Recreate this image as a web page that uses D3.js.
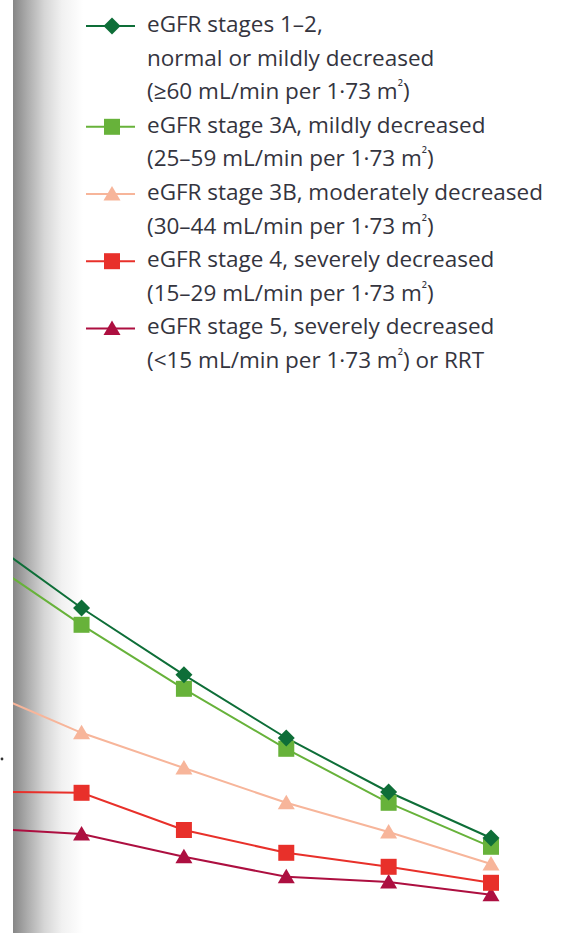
<!DOCTYPE html>
<html><head><meta charset="utf-8">
<script src="https://cdn.jsdelivr.net/npm/d3@7/dist/d3.min.js"></script>
<style>body{margin:0;background:#fff}svg{display:block}</style>
</head><body>
<script>
// ---- data (chart is cropped; leftmost point lies off-canvas) ----
const timePoints = [0, 1, 2, 3, 4, 5];
const stage12  = [101.5, 83.0, 66.3, 50.5, 37.0, 25.5];
const stage3A  = [96.2, 78.8, 62.8, 47.8, 34.3, 23.3];
const stage3B  = [62.8, 51.8, 43.0, 34.3, 27.0, 19.0];
const stage4   = [37.1, 36.8, 27.5, 21.8, 18.3, 14.3];
const stage5   = [28.0, 26.5, 20.8, 15.8, 14.5, 11.3];
const seriesNames = [
  ["eGFR stages 1–2,", "normal or mildly decreased", "(≥60 mL/min per 1·73 m|²|)"],
  ["eGFR stage 3A, mildly decreased", "(25–59 mL/min per 1·73 m|²|)"],
  ["eGFR stage 3B, moderately decreased", "(30–44 mL/min per 1·73 m|²|)"],
  ["eGFR stage 4, severely decreased", "(15–29 mL/min per 1·73 m|²|)"],
  ["eGFR stage 5, severely decreased", "(<15 mL/min per 1·73 m|²|) or RRT"]
];
const seriesColors = ["#0e6e38", "#67b23a", "#f7b59a", "#e8302a", "#ad0f40"];
const seriesSymbols = ["diamond", "square", "triangle", "square", "triangle"];

const W = 564, H = 933;
const svg = d3.select("body").append("svg").attr("width", W).attr("height", H);

// page-fold shadow
const defs = svg.append("defs");
const g = defs.append("linearGradient").attr("id", "fold").attr("x1", 0).attr("x2", 1).attr("y1", 0).attr("y2", 0);
[[0, "#868686"], [0.2, "#ababab"], [0.45, "#d6d6d6"], [0.7, "#f1f1f1"], [1, "#ffffff"]]
  .forEach(([o, c]) => g.append("stop").attr("offset", o).attr("stop-color", c));
svg.append("rect").attr("x", 13).attr("y", 0).attr("width", 70).attr("height", H).attr("fill", "url(#fold)");
svg.append("circle").attr("cx", 2).attr("cy", 759).attr("r", 1.4).attr("fill", "#333");

defs.append("clipPath").attr("id", "clip").append("rect").attr("x", 13).attr("y", 0).attr("width", W - 13).attr("height", H);

const x = d3.scaleLinear().domain([0, 5]).range([-20.8, 491]);
const y = d3.scaleLinear().domain([0, 100]).range([940, 540]);

const allSeries = [stage12, stage3A, stage3B, stage4, stage5];
function sym(kind) {
  if (kind === "diamond") return "M0,-8.5L8.5,0L0,8.5L-8.5,0Z";
  if (kind === "square") return "M-8,-8H8V8H-8Z";
  return "M0,-8L8.5,6.5L-8.5,6.5Z";
}

const plot = svg.append("g").attr("clip-path", "url(#clip)");
const line = d3.line().x((d, i) => x(timePoints[i])).y(d => y(d));
for (let s = allSeries.length - 1; s >= 0; s--) {
  plot.append("path").datum(allSeries[s]).attr("d", line)
    .attr("fill", "none").attr("stroke", seriesColors[s]).attr("stroke-width", 2);
}
for (let s = allSeries.length - 1; s >= 0; s--) {
  plot.selectAll(null).data(allSeries[s]).join("path")
    .attr("transform", (d, i) => `translate(${x(timePoints[i])},${y(d)})`)
    .attr("d", sym(seriesSymbols[s])).attr("fill", seriesColors[s]);
}

// legend
const leg = svg.append("g");
const lh = 33.6;
let row = 0;
seriesNames.forEach((lines, s) => {
  const base = 32 + lh * row;
  const sy = base - 6;
  leg.append("line").attr("x1", 86).attr("x2", 135).attr("y1", sy).attr("y2", sy)
    .attr("stroke", seriesColors[s]).attr("stroke-width", 2);
  leg.append("path").attr("transform", `translate(112,${sy})`).attr("d", sym(seriesSymbols[s])).attr("fill", seriesColors[s]);
  lines.forEach((t, k) => {
    const txt = leg.append("text").attr("x", 147).attr("y", 32 + lh * (row + k))
      .attr("font-family", "'Open Sans', Lato, sans-serif").attr("font-size", 22.5).attr("fill", "#34343e");
    t.split("|").forEach((part, j) => {
      const ts = txt.append("tspan").text(part);
      if (j === 1) ts.attr("font-size", 15).attr("dy", -7);
      if (j === 2) ts.attr("dy", 7);
    });
  });
  row += lines.length;
});
</script>
</body></html>
